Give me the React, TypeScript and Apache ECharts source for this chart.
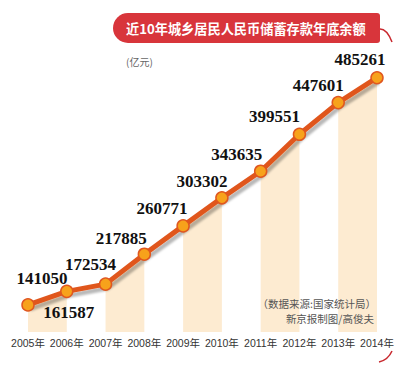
import React, { useEffect, useRef } from "react";
import * as echarts from "echarts";

const years = ["2005年", "2006年", "2007年", "2008年", "2009年", "2010年", "2011年", "2012年", "2013年", "2014年"];
const savings = [141050, 161587, 172534, 217885, 260771, 303302, 343635, 399551, 447601, 485261];
const titleText = "近10年城乡居民人民币储蓄存款年底余额";
const unitText = "(亿元)";
const sourceText = "（数据来源:国家统计局）";
const creditText = "新京报制图/高俊夫";

const Y_MIN = 100000;
const Y_MAX = 500000;

// label offsets (style only)
const labelOffsets: [number, number][] = [
  [14, -26], [2, 21], [-15, -20], [-23, -16], [-21, -17],
  [-20, -16], [-24, -17], [-25, -18], [-20, -17], [-17, -18],
];

export default function App() {
  const ref = useRef<HTMLDivElement>(null);
  useEffect(() => {
    if (!ref.current) return;
    const chart = echarts.init(ref.current, null, { renderer: "svg" });

    const stripeData: number[][] = [];
    for (let i = 0; i + 1 < savings.length; i += 2) {
      stripeData.push([i, savings[i], savings[i + 1]]);
    }

    const option: any = {
      animation: false,
      backgroundColor: "#ffffff",
      grid: { left: 28, right: 23, top: 68, bottom: 35 },
      xAxis: {
        type: "category",
        data: years,
        boundaryGap: false,
        axisLine: { show: false },
        axisTick: { show: false },
        splitLine: { show: false },
        axisLabel: {
          interval: 0,
          margin: 6,
          fontSize: 10.5,
          color: "#333",
          fontFamily: "'Liberation Sans', 'Noto Sans CJK SC', sans-serif",
        },
      },
      yAxis: {
        type: "value",
        min: Y_MIN,
        max: Y_MAX,
        show: false,
      },
      series: [
        {
          type: "custom",
          silent: true,
          data: stripeData,
          encode: { x: 0, y: 1 },
          z: 1,
          renderItem: (params: any, api: any) => {
            const i = api.value(0);
            const v0 = api.value(1);
            const v1 = api.value(2);
            const p0 = api.coord([i, v0]);
            const p1 = api.coord([i + 1, v1]);
            const b0 = api.coord([i, Y_MIN]);
            return {
              type: "polygon",
              shape: {
                points: [
                  [p0[0], p0[1]],
                  [p1[0], p1[1]],
                  [p1[0], b0[1]],
                  [p0[0], b0[1]],
                ],
              },
              style: { fill: "#fdebd1" },
            };
          },
        },
        {
          type: "line",
          data: savings.map((v, idx) => ({
            value: v,
            label: { offset: labelOffsets[idx] },
          })),
          symbol: "circle",
          symbolSize: 12,
          lineStyle: {
            color: "#e0571f",
            width: 5,
            shadowColor: "rgba(0,0,0,0.28)",
            shadowBlur: 2,
            shadowOffsetX: 2,
            shadowOffsetY: 4,
          },
          itemStyle: {
            color: "#f7a21b",
            borderColor: "#e0571f",
            borderWidth: 1.5,
          },
          label: {
            show: true,
            position: "inside",
            color: "#111",
            fontSize: 17,
            fontWeight: "bold",
            fontFamily: "'Liberation Serif', 'DejaVu Serif', serif",
          },
          z: 3,
        },
      ],
      graphic: [
        {
          type: "rect",
          z: 100,
          shape: { x: 113, y: 13, width: 267, height: 30, r: [15, 3, 3, 15] },
          style: { fill: "#d8353b" },
        },
        {
          type: "text",
          z: 101,
          x: 126,
          y: 28,
          style: {
            text: titleText,
            fill: "#ffffff",
            fontSize: 13.2,
            fontWeight: "bold",
            fontFamily: "'Noto Sans CJK SC', sans-serif",
            verticalAlign: "middle",
          },
        },
        {
          type: "bezierCurve",
          z: 100,
          shape: { x1: 380, y1: 29, cpx1: 387, cpy1: 29, x2: 392, y2: 42 },
          style: { stroke: "#c8282e", lineWidth: 1.5, fill: "none" },
        },
        {
          type: "bezierCurve",
          z: 100,
          shape: { x1: 379, y1: 362, cpx1: 388, cpy1: 360, x2: 392, y2: 351 },
          style: { stroke: "#c8282e", lineWidth: 1.5, fill: "none" },
        },
        {
          type: "text",
          z: 100,
          x: 126,
          y: 61,
          style: {
            text: unitText,
            fill: "#666",
            fontSize: 10,
            fontFamily: "'Noto Sans CJK SC', sans-serif",
            verticalAlign: "middle",
          },
        },
        {
          type: "text",
          z: 100,
          x: 376,
          y: 303,
          style: {
            text: sourceText,
            fill: "#555",
            fontSize: 10.5,
            fontFamily: "'Noto Sans CJK SC', sans-serif",
            align: "right",
            verticalAlign: "middle",
          },
        },
        {
          type: "text",
          z: 100,
          x: 374,
          y: 318,
          style: {
            text: creditText,
            fill: "#555",
            fontSize: 10.5,
            fontFamily: "'Noto Sans CJK SC', sans-serif",
            align: "right",
            verticalAlign: "middle",
          },
        },
      ],
    };

    chart.setOption(option);
    return () => chart.dispose();
  }, []);

  return (
    <div
      ref={ref}
      style={{ position: "fixed", left: 0, top: 0, width: 400, height: 367, background: "#fff" }}
    />
  );
}
